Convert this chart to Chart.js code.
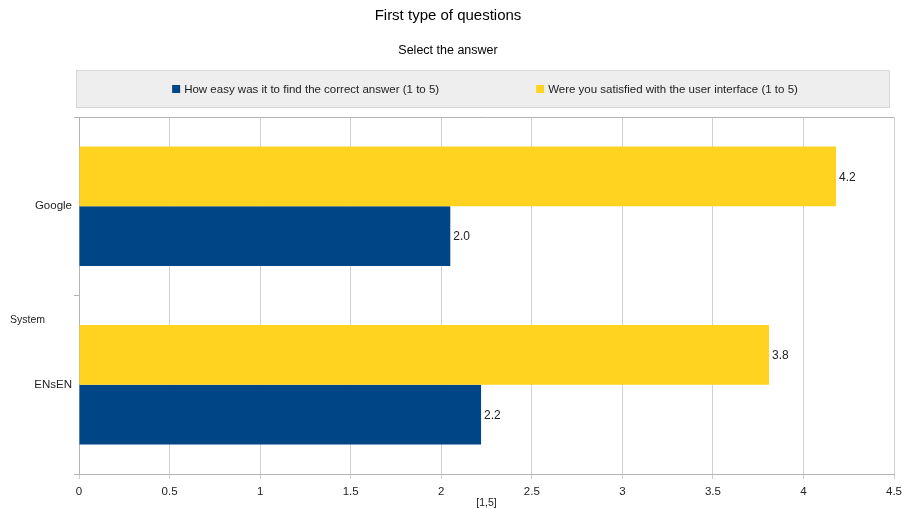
<!DOCTYPE html>
<html>
<head>
<meta charset="utf-8">
<script src="https://cdn.jsdelivr.net/npm/chart.js@4/dist/chart.umd.min.js"></script>
<style>
  body { margin: 0; background: #fff; }
  #wrap { width: 908px; height: 509px; }
</style>
</head>
<body>
<div id="wrap"><canvas id="myChart"></canvas></div>
<script>
var systems = ['Google', 'ENsEN'];
var easyLabel = 'How easy was it to find the correct answer (1 to 5)';
var satisfiedLabel = 'Were you satisfied with the user interface (1 to 5)';
var easyValues = [2.05, 2.22];
var satisfiedValues = [4.18, 3.81];
var xTicks = [0, 0.5, 1, 1.5, 2, 2.5, 3, 3.5, 4, 4.5];

var BLUE = '#004586';
var YELLOW = '#ffd320';
var FONT = '"Liberation Sans", Arial, sans-serif';

// legend box + "System" + top border + value labels
var extras = {
  id: 'extras',
  beforeDraw: function (chart) {
    var c = chart.ctx;
    c.save();
    c.fillStyle = '#eeeeee';
    c.fillRect(76, 70, 814, 38);
    c.strokeStyle = '#c0c0c0';
    c.setLineDash([1, 1]);
    c.lineWidth = 1;
    c.strokeRect(76.5, 70.5, 813, 37);
    c.setLineDash([]);

    c.font = '11.5px ' + FONT;
    c.textBaseline = 'middle';
    var items = [[BLUE, easyLabel], [YELLOW, satisfiedLabel]];
    var gap = 97;
    var widths = items.map(function (it) { return 12 + c.measureText(it[1]).width; });
    var total = widths[0] + widths[1] + gap;
    var x = 76 + (814 - total) / 2 + 2;
    items.forEach(function (it, i) {
      c.fillStyle = it[0];
      c.fillRect(x, 85, 8, 8);
      c.fillStyle = '#222';
      c.textAlign = 'left';
      c.fillText(it[1], x + 12, 89.5);
      x += widths[i] + gap;
    });
    c.restore();
  },
  afterDraw: function (chart) {
    var c = chart.ctx;
    var a = chart.chartArea;
    c.save();
    c.strokeStyle = '#b3b3b3';
    c.lineWidth = 1;
    c.beginPath();
    c.moveTo(a.left, a.top + 0.5);
    c.lineTo(a.right, a.top + 0.5);
    c.stroke();

    c.font = '10.5px ' + FONT;
    c.fillStyle = '#222';
    c.textAlign = 'left';
    c.textBaseline = 'middle';
    c.fillText('System', 10, (a.top + a.bottom) / 2 + 25);

    c.font = '12px ' + FONT;
    chart.data.datasets.forEach(function (ds, i) {
      chart.getDatasetMeta(i).data.forEach(function (bar, j) {
        c.fillText(ds.data[j].toFixed(1), bar.x + 3, bar.y + 1);
      });
    });
    c.restore();
  }
};

var ctx = document.getElementById('myChart').getContext('2d');
var myChart = new Chart(ctx, {
  type: 'bar',
  data: {
    labels: systems,
    datasets: [{
      label: satisfiedLabel,
      data: satisfiedValues,
      backgroundColor: YELLOW,
      categoryPercentage: 0.67,
      barPercentage: 1
    }, {
      label: easyLabel,
      data: easyValues,
      backgroundColor: BLUE,
      categoryPercentage: 0.67,
      barPercentage: 1
    }]
  },
  options: {
    indexAxis: 'y',
    responsive: true,
    maintainAspectRatio: false,
    animation: false,
    layout: { padding: { left: 0, right: 12, top: 0, bottom: 0 } },
    plugins: {
      legend: { display: false },
      tooltip: { enabled: false },
      title: {
        display: true,
        text: 'First type of questions',
        color: '#000',
        font: { family: FONT, size: 15, weight: 'normal' },
        padding: { top: 7, bottom: 17.5 }
      },
      subtitle: {
        display: true,
        text: 'Select the answer',
        color: '#000',
        font: { family: FONT, size: 12.5, weight: 'normal' },
        padding: { top: 1, bottom: 58.5 }
      }
    },
    scales: {
      x: {
        min: 0,
        max: 4.5,
        afterBuildTicks: function (scale) {
          scale.ticks = xTicks.map(function (v) { return { value: v }; });
        },
        afterFit: function (scale) { scale.height = 35; },
        grid: { color: '#d0d0d0', tickLength: 5, tickColor: '#d0d0d0' },
        border: { color: '#b3b3b3' },
        ticks: {
          color: '#222',
          padding: 6,
          font: { family: FONT, size: 11.5 },
          callback: function (v) { return String(v); }
        },
        title: {
          display: true,
          text: '[1,5]',
          color: '#222',
          font: { family: FONT, size: 10.5 },
          padding: { top: 0, bottom: 0 }
        }
      },
      y: {
        afterFit: function (scale) { scale.width = 79; },
        grid: { drawOnChartArea: false, tickLength: 5, color: '#b3b3b3' },
        border: { color: '#b3b3b3' },
        ticks: {
          color: '#222',
          padding: 2,
          font: { family: FONT, size: 11.5 }
        }
      }
    }
  },
  plugins: [extras]
});
</script>
</body>
</html>
